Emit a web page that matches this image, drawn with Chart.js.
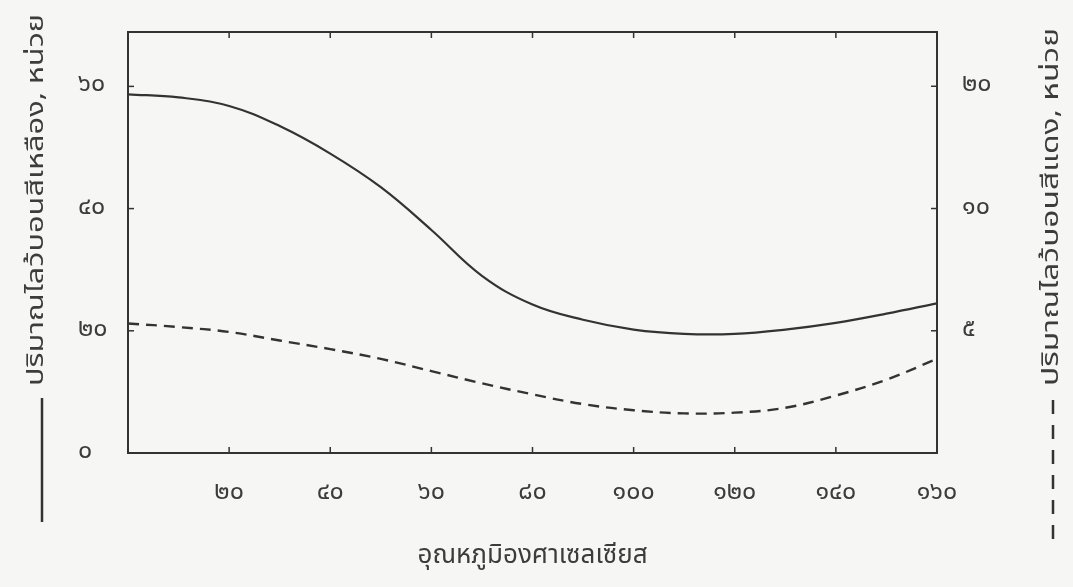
<!DOCTYPE html>
<html lang="th">
<head>
<meta charset="utf-8">
<script src="https://cdn.jsdelivr.net/npm/chart.js@4"></script>
<style>
  html, body { margin: 0; padding: 0; background: #f6f6f4; }
  #wrap { width: 1073px; height: 587px; }
</style>
</head>
<body>
<div id="wrap"><canvas id="tempChart" width="1073" height="587"></canvas></div>
<script>
// temperature (deg C) and pigment amounts
const temps = [0, 10, 20, 30, 40, 50, 60, 70, 80, 90, 100, 110, 120, 130, 140, 150, 160];
const yellowAmount = [58.7, 58.2, 56.8, 53.5, 49, 43.5, 36.5, 29, 24.3, 21.8, 20.2, 19.5, 19.5, 20.2, 21.3, 22.8, 24.5];
const redAmount = [5.3, 5.15, 4.95, 4.6, 4.25, 3.85, 3.35, 2.85, 2.4, 2.0, 1.75, 1.62, 1.65, 1.85, 2.35, 3.0, 3.85];

const xTicks = [0, 20, 40, 60, 80, 100, 120, 140, 160];
const xTickLabels = ['', '๒๐', '๔๐', '๖๐', '๘๐', '๑๐๐', '๑๒๐', '๑๔๐', '๑๖๐'];
const leftTicks = [0, 20, 40, 60];
const leftTickLabels = ['๐', '๒๐', '๔๐', '๖๐'];
const rightTicks = [5, 10, 15];
const rightTickLabels = ['๕', '๑๐', '๒๐'];

const xTitle = 'อุณหภูมิองศาเซลเซียส';
const leftTitle = 'ปริมาณไลว้บอนสีเหลือง, หน่วย';
const rightTitle = 'ปริมาณไลว้บอนสีแดง, หน่วย';

const ink = '#333333';
const textInk = '#3c3c3c';
const thaiFont = "'Noto Sans Thai', 'Loma', 'Garuda', 'Norasi', 'Noto Sans', 'DejaVu Sans', sans-serif";

function labelFrom(values, labels) {
  return function (v) {
    const i = values.indexOf(v);
    return i >= 0 ? labels[i] : '';
  };
}

// vertical title reading bottom to top, stretched to the length it has in the scan
function sideTitle(ctx, text, cx, cy, length) {
  ctx.save();
  ctx.translate(cx, cy);
  ctx.rotate(-Math.PI / 2);
  const w = ctx.measureText(text).width;
  ctx.scale(length / w, 1);
  ctx.fillText(text, 0, 0);
  ctx.restore();
}

// box, inward tick marks, rotated side titles and legend strokes
const frameAndTitles = {
  id: 'frameAndTitles',
  afterDatasetsDraw(chart) {
    const { ctx, chartArea: a, scales } = chart;
    ctx.save();
    ctx.strokeStyle = ink;
    ctx.lineWidth = 2;
    ctx.strokeRect(a.left, a.top, a.right - a.left, a.bottom - a.top);

    ctx.lineWidth = 1.5;
    xTicks.forEach(v => {
      const px = scales.x.getPixelForValue(v);
      ctx.beginPath();
      ctx.moveTo(px, a.bottom); ctx.lineTo(px, a.bottom - 6);
      ctx.moveTo(px, a.top); ctx.lineTo(px, a.top + 6);
      ctx.stroke();
    });
    leftTicks.forEach(v => {
      const py = scales.y.getPixelForValue(v);
      ctx.beginPath();
      ctx.moveTo(a.left, py); ctx.lineTo(a.left + 6, py);
      ctx.stroke();
    });
    rightTicks.forEach(v => {
      const py = scales.y1.getPixelForValue(v);
      ctx.beginPath();
      ctx.moveTo(a.right, py); ctx.lineTo(a.right - 6, py);
      ctx.stroke();
    });

    ctx.fillStyle = textInk;
    ctx.font = '23px ' + thaiFont;
    ctx.textAlign = 'center';
    ctx.textBaseline = 'middle';
    sideTitle(ctx, leftTitle, 38, 200, 372);
    sideTitle(ctx, rightTitle, 1053, 207, 358);

    // line samples under the side titles
    ctx.lineWidth = 2.5;
    ctx.beginPath();
    ctx.moveTo(42, 398); ctx.lineTo(42, 522);
    ctx.stroke();
    ctx.setLineDash([14, 11]);
    ctx.beginPath();
    ctx.moveTo(1053, 400); ctx.lineTo(1053, 550);
    ctx.stroke();
    ctx.restore();
  }
};

new Chart(document.getElementById('tempChart'), {
  type: 'line',
  data: {
    datasets: [
      {
        label: 'สีเหลือง',
        data: temps.map((t, i) => ({ x: t, y: yellowAmount[i] })),
        yAxisID: 'y',
        borderColor: ink,
        borderWidth: 2.2,
        pointRadius: 0,
        tension: 0.4,
        fill: false,
      },
      {
        label: 'สีแดง',
        data: temps.map((t, i) => ({ x: t, y: redAmount[i] })),
        yAxisID: 'y1',
        borderColor: ink,
        borderWidth: 2.4,
        borderDash: [11, 7],
        pointRadius: 0,
        tension: 0.4,
        fill: false,
      },
    ]
  },
  options: {
    responsive: false,
    animation: false,
    layout: { padding: { top: 32, left: 78 } },
    plugins: {
      legend: { display: false },
      title: { display: false },
      tooltip: { enabled: false }
    },
    scales: {
      x: {
        type: 'linear',
        min: 0,
        max: 160,
        afterFit: s => { s.height = 134; },
        afterBuildTicks: s => { s.ticks = xTicks.map(v => ({ value: v })); },
        grid: { display: false },
        border: { display: false },
        ticks: {
          padding: 18,
          color: textInk,
          font: { family: thaiFont, size: 25 },
          maxRotation: 0,
          callback: labelFrom(xTicks, xTickLabels)
        },
        title: {
          display: true,
          text: xTitle,
          color: textInk,
          font: { family: thaiFont, size: 26 },
          padding: { top: 0, bottom: 14 }
        }
      },
      y: {
        position: 'left',
        min: 0,
        max: 68.9,
        afterFit: s => { s.width = 50; },
        afterBuildTicks: s => { s.ticks = leftTicks.map(v => ({ value: v })); },
        grid: { display: false },
        border: { display: false },
        ticks: {
          crossAlign: 'far',
          color: textInk,
          font: { family: thaiFont, size: 25 },
          callback: labelFrom(leftTicks, leftTickLabels)
        }
      },
      y1: {
        position: 'right',
        min: 0,
        max: 17.22,
        afterFit: s => { s.width = 136; },
        afterBuildTicks: s => { s.ticks = rightTicks.map(v => ({ value: v })); },
        grid: { display: false },
        border: { display: false },
        ticks: {
          padding: 17,
          color: textInk,
          font: { family: thaiFont, size: 25 },
          callback: labelFrom(rightTicks, rightTickLabels)
        }
      }
    }
  },
  plugins: [frameAndTitles]
});
</script>
</body>
</html>
